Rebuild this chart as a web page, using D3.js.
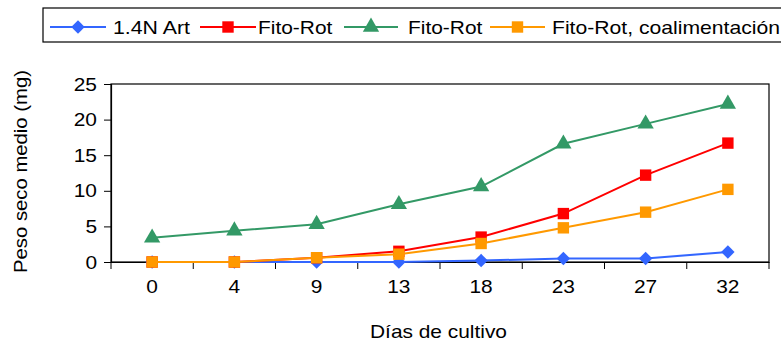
<!DOCTYPE html>
<html>
<head>
<meta charset="utf-8">
<script src="https://cdn.jsdelivr.net/npm/d3@7"></script>
<style>
  html, body { margin: 0; padding: 0; background: #fff; }
  svg { display: block; }
  text { font-family: "Liberation Sans", Arial, sans-serif; fill: #000; }
</style>
</head>
<body>
<svg id="chart" width="781" height="345"></svg>
<script>
const days = ["0", "4", "9", "13", "18", "23", "27", "32"];
const yTicks = [0, 5, 10, 15, 20, 25];
const seriesNames = ["1.4N Art", "Fito-Rot", "Fito-Rot", "Fito-Rot, coalimentación"];
const artValues = [0, 0, 0, 0, 0.2, 0.5, 0.5, 1.4];
const fitoRotValues = [0, 0, 0.6, 1.5, 3.5, 6.8, 12.2, 16.7];
const fitoRotGreenValues = [3.4, 4.4, 5.3, 8.1, 10.6, 16.6, 19.4, 22.2];
const coalimValues = [0, 0, 0.6, 1.1, 2.6, 4.8, 7.0, 10.2];
const xTitle = "Días de cultivo";
const yTitle = "Peso seco medio (mg)";

const FS = 19;
const STRETCH = 1.1;

const diamond = { draw(ctx, size) { const r = Math.sqrt(size / 2); ctx.moveTo(0, -r); ctx.lineTo(r, 0); ctx.lineTo(0, r); ctx.lineTo(-r, 0); ctx.closePath(); } };

const series = [
  { name: seriesNames[0], values: artValues, color: "#3366FF", symbol: diamond, size: 90 },
  { name: seriesNames[1], values: fitoRotValues, color: "#FF0000", symbol: d3.symbolSquare, size: 130 },
  { name: seriesNames[2], values: fitoRotGreenValues, color: "#339966", symbol: d3.symbolTriangle, size: 115 },
  { name: seriesNames[3], values: coalimValues, color: "#FF9900", symbol: d3.symbolSquare, size: 130 }
];

const svg = d3.select("#chart");
const pL = 111, pR = 769, pT = 84, pB = 262;

const x = d3.scaleBand().domain(days).range([pL, pR]).padding(0);
const y = d3.scaleLinear().domain([0, 25]).range([pB, pT]);

function stretch(sel, width) {
  sel.each(function () {
    const w = width || this.getComputedTextLength() * STRETCH;
    d3.select(this).attr("textLength", w).attr("lengthAdjust", "spacingAndGlyphs");
  });
}

// plot frame
svg.append("rect").attr("x", pL).attr("y", pT)
  .attr("width", pR - pL).attr("height", pB - pT)
  .attr("fill", "none").attr("stroke", "#000").attr("stroke-width", 1.2);

// y axis
const yAxis = svg.append("g").attr("transform", `translate(${pL},0)`)
  .call(d3.axisLeft(y).tickValues(yTicks).tickSize(7).tickPadding(7));
yAxis.select(".domain").attr("stroke", "#000").attr("stroke-width", 1.2);
yAxis.selectAll(".tick line").attr("stroke", "#000");
yAxis.selectAll(".tick text").style("font-size", FS + "px")
  .attr("font-family", "Liberation Sans, Arial, sans-serif").call(stretch);

// x axis: ticks at band boundaries
const xAxis = svg.append("g").attr("transform", `translate(0,${pB})`)
  .call(d3.axisBottom(x).tickSize(0).tickPadding(18));
xAxis.select(".domain").attr("stroke", "#000").attr("stroke-width", 1.2);
xAxis.selectAll(".tick text").style("font-size", FS + "px")
  .attr("font-family", "Liberation Sans, Arial, sans-serif").call(stretch);
const bounds = days.map(d => x(d)).concat([pR]);
xAxis.selectAll("line.bound").data(bounds).enter().append("line")
  .attr("class", "bound")
  .attr("x1", d => d).attr("x2", d => d)
  .attr("y1", 0).attr("y2", 7).attr("stroke", "#000").attr("stroke-width", 1);

// titles
svg.append("text").attr("x", 438.5).attr("y", 338).attr("text-anchor", "middle")
  .style("font-size", FS + "px").text(xTitle).call(stretch, 137);
svg.append("text").attr("transform", `translate(27,171.5) rotate(-90)`)
  .attr("text-anchor", "middle").style("font-size", FS + "px").text(yTitle).call(stretch, 203);

// lines & markers
const xc = d => x(d) + x.bandwidth() / 2;
const line = d3.line().x((v, i) => xc(days[i])).y(v => y(v));
series.forEach(s => {
  svg.append("path").datum(s.values).attr("d", line)
    .attr("fill", "none").attr("stroke", s.color).attr("stroke-width", 2);
  svg.selectAll(null).data(s.values).enter().append("path")
    .attr("d", d3.symbol().type(s.symbol).size(s.size))
    .attr("transform", (v, i) => `translate(${xc(days[i])},${y(v)})`)
    .attr("fill", s.color);
});

// legend
const leg = svg.append("g");
leg.append("rect").attr("x", 43).attr("y", 8).attr("width", 760).attr("height", 34)
  .attr("fill", "#fff").attr("stroke", "#000").attr("stroke-width", 1.2);
const legItems = [
  { lx1: 50, lx2: 106, tx: 113, w: 77 },
  { lx1: 200, lx2: 256, tx: 258, w: 0 },
  { lx1: 344, lx2: 398, tx: 408, w: 0 },
  { lx1: 490, lx2: 545, tx: 552, w: 228 }
];
series.forEach((s, i) => {
  const it = legItems[i];
  const cy = 27;
  leg.append("line").attr("x1", it.lx1).attr("x2", it.lx2).attr("y1", cy).attr("y2", cy)
    .attr("stroke", s.color).attr("stroke-width", 2);
  leg.append("path").attr("d", d3.symbol().type(s.symbol).size(s.size))
    .attr("transform", `translate(${(it.lx1 + it.lx2) / 2},${cy})`).attr("fill", s.color);
  leg.append("text").attr("x", it.tx).attr("y", 34).style("font-size", FS + "px")
    .text(s.name).call(stretch, it.w || 0);
});
</script>
</body>
</html>
